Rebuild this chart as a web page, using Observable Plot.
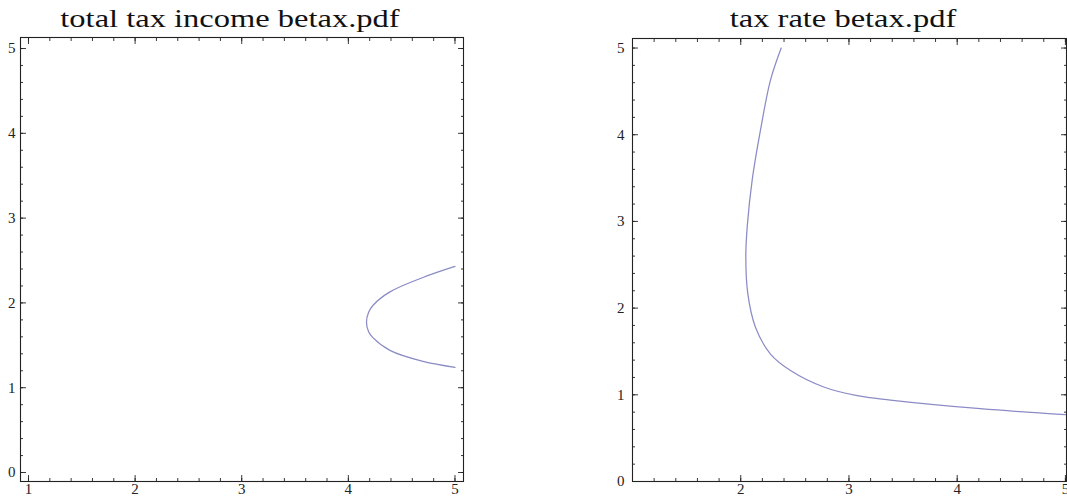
<!DOCTYPE html>
<html><head><meta charset="utf-8">
<script src="https://cdn.jsdelivr.net/npm/d3@7"></script>
<script src="https://cdn.jsdelivr.net/npm/@observablehq/plot@0.6"></script>
<style>
body{margin:0;background:#fff;width:1067px;height:498px;overflow:hidden;position:relative;font-family:"Liberation Serif","DejaVu Serif",serif}
.t{position:absolute;font-size:25px;color:#111;white-space:nowrap;transform:translateX(-50%) scaleX(1.3);line-height:1}
.p{position:absolute;top:0}
.p svg{overflow:visible}
</style></head><body>
<div class="t" style="left:230px;top:6px">total tax income betax.pdf</div>
<div class="t" style="left:843px;top:6px">tax rate betax.pdf</div>
<div class="p" id="left" style="left:0px"></div>
<div class="p" id="right" style="left:560px"></div>
<script>
// Panel 1: total tax income
const incomeX = [5.0, 4.70, 4.39, 4.23, 4.19, 4.17, 4.19, 4.23, 4.39, 4.70, 5.0];
const incomeY = [2.43, 2.30, 2.13, 1.97, 1.89, 1.77, 1.66, 1.59, 1.44, 1.31, 1.24];
const incomeXLabels = [1, 2, 3, 4, 5];
const incomeYLabels = [0, 1, 2, 3, 4, 5];
// Panel 2: tax rate
const rateX = [2.374, 2.275, 2.182, 2.106, 2.06, 2.047, 2.065, 2.136, 2.275, 2.46, 2.767, 3.076, 3.383, 4.215, 5.0];
const rateY = [5.0, 4.63, 4.05, 3.48, 2.94, 2.59, 2.17, 1.78, 1.47, 1.28, 1.09, 0.99, 0.94, 0.84, 0.77];
const rateXLabels = [2, 3, 4, 5];
const rateYLabels = [0, 1, 2, 3, 4, 5];
const majorTicks = [0, 1, 2, 3, 4, 5];
const minorTicks = d3.range(0, 26).map(i => i / 5);

const curveColor = "#8b8bc6";

function panel({xs, ys, xDomain, yDomain, xLabels, yLabels, width, height, margins, yPad}) {
  const data = xs.map((x, i) => ({x, y: ys[i]}));
  const xMinor = minorTicks.filter(v => v >= xDomain[0] && v <= xDomain[1]);
  const yMinor = minorTicks.filter(v => v >= yDomain[0] && v <= yDomain[1]);
  const xMajor = majorTicks.filter(v => v >= xDomain[0] && v <= xDomain[1]);
  const yMajor = majorTicks.filter(v => v >= yDomain[0] && v <= yDomain[1]);
  const tickOpts = {text: null, label: null, stroke: "#222", strokeWidth: 0.9};
  const fmt = d3.format("d");
  return Plot.plot({
    width, height,
    marginLeft: margins[0], marginRight: margins[1], marginTop: margins[2], marginBottom: margins[3],
    style: {fontFamily: "'Liberation Serif', serif", fontSize: "15px", background: "transparent", color: "#222", overflow: "visible"},
    x: {domain: xDomain, axis: null},
    y: {domain: yDomain, axis: null},
    marks: [
      Plot.axisX(xMinor, {anchor: "bottom", tickSize: -3, ...tickOpts}),
      Plot.axisX(xMinor, {anchor: "top", tickSize: -3, ...tickOpts}),
      Plot.axisX(xMajor, {anchor: "bottom", tickSize: -6, ...tickOpts}),
      Plot.axisX(xMajor, {anchor: "top", tickSize: -6, ...tickOpts}),
      Plot.axisY(yMinor, {anchor: "left", tickSize: -3, ...tickOpts}),
      Plot.axisY(yMinor, {anchor: "right", tickSize: -3, ...tickOpts}),
      Plot.axisY(yMajor, {anchor: "left", tickSize: -6, ...tickOpts}),
      Plot.axisY(yMajor, {anchor: "right", tickSize: -6, ...tickOpts}),
      Plot.axisX(xLabels, {anchor: "bottom", tickSize: 0, tickPadding: 2, label: null, fontSize: 15, tickFormat: fmt}),
      Plot.axisY(yLabels, {anchor: "left", tickSize: 0, tickPadding: yPad, label: null, fontSize: 15, tickFormat: fmt}),
      Plot.frame({stroke: "#222", strokeWidth: 1.1}),
      Plot.line(data, {x: "x", y: "y", stroke: curveColor, strokeWidth: 1.25, curve: "catmull-rom"})
    ]
  });
}

document.getElementById("left").append(panel({
  xs: incomeX, ys: incomeY,
  xDomain: [0.925, 5.08], yDomain: [-0.106, 5.13],
  xLabels: incomeXLabels, yLabels: incomeYLabels,
  width: 480, height: 498, margins: [20, 17, 37, 17], yPad: 5
}));
document.getElementById("right").append(panel({
  xs: rateX, ys: rateY,
  xDomain: [1, 5.01], yDomain: [0, 5.11],
  xLabels: rateXLabels, yLabels: rateYLabels,
  width: 507, height: 498, margins: [72, 1, 38, 17], yPad: 8
}));
</script>
</body></html>
